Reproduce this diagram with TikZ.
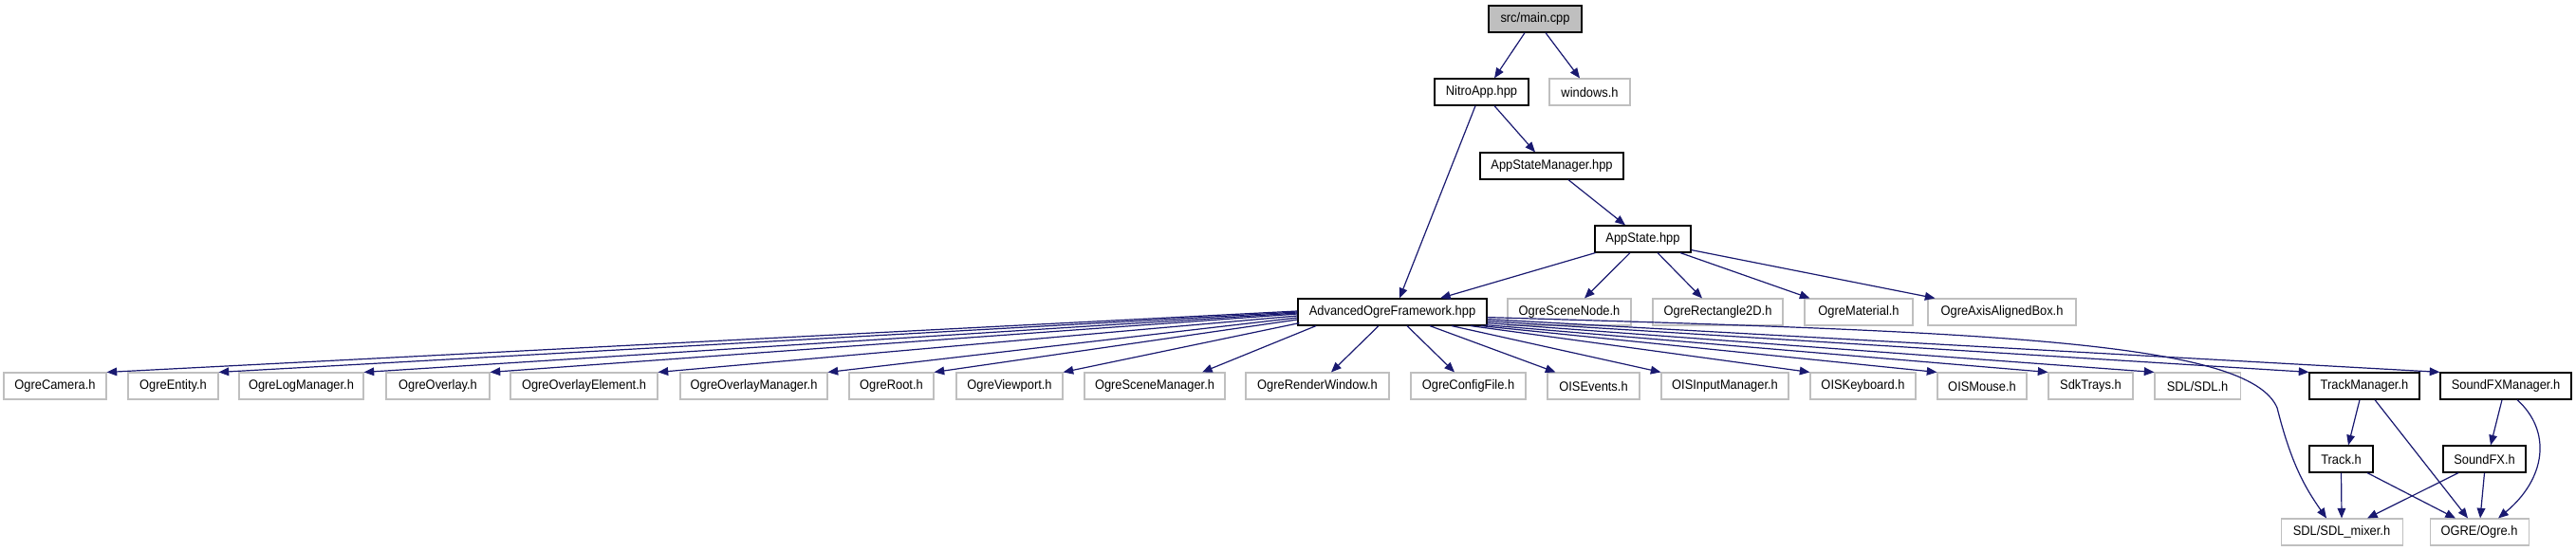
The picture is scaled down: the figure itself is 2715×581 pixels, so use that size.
\documentclass[tikz,border=0pt]{standalone}
\usepackage{fontspec}
\setmainfont{Liberation Sans}[FakeStretch=0.92]
\usepackage{xcolor}
\usetikzlibrary{arrows.meta}
\definecolor{edgeblue}{HTML}{191970}
\definecolor{extgray}{HTML}{BFBFBF}

\begin{document}
\begin{tikzpicture}[x=0.75pt,y=-0.75pt,
  font=\fontsize{10.5}{12}\selectfont, >={Triangle[length=8pt,width=6.5pt]},
  docfile/.style={draw=black,line width=0.9pt,fill=white,inner sep=0pt,minimum height=21pt,minimum width=#1*0.75pt},
  extfile/.style={draw=extgray,line width=0.8pt,fill=white,inner sep=0pt,minimum height=21pt,minimum width=#1*0.75pt},
  mainfile/.style={docfile=#1,fill=extgray},
  dep/.style={->,draw=edgeblue,line width=0.9pt}
]
\useasboundingbox (0,0) rectangle (2715,581);

% top of the include chain
\node[mainfile=98] (main) at (1618,20) {src/main.cpp};
\node[docfile=99] (nitro) at (1561.5,97) {NitroApp.hpp};
\node[extfile=85] (windows) at (1675.5,97) {windows.h};
\node[docfile=151] (asm) at (1635.5,175) {AppStateManager.hpp};
\node[docfile=101] (appstate) at (1731.5,252) {AppState.hpp};

% rank of AdvancedOgreFramework
\node[docfile=199] (aof) at (1467.5,329) {AdvancedOgreFramework.hpp};
\node[extfile=130] (scenenode) at (1654,329) {OgreSceneNode.h};
\node[extfile=137] (rect2d) at (1810.5,329) {OgreRectangle2D.h};
\node[extfile=114] (material) at (1959,329) {OgreMaterial.h};
\node[extfile=156] (aabb) at (2110,329) {OgreAxisAlignedBox.h};

% headers used by the framework
\node[extfile=108] (camera) at (58,407) {OgreCamera.h};
\node[extfile=95] (entity) at (182.5,407) {OgreEntity.h};
\node[extfile=131] (logmgr) at (317.5,407) {OgreLogManager.h};
\node[extfile=109] (overlay) at (461.5,407) {OgreOverlay.h};
\node[extfile=155] (ovelem) at (615.5,407) {OgreOverlayElement.h};
\node[extfile=155] (ovmgr) at (794.5,407) {OgreOverlayManager.h};
\node[extfile=89] (ogreroot) at (939.5,407) {OgreRoot.h};
\node[extfile=112] (viewport) at (1064,407) {OgreViewport.h};
\node[extfile=148] (scenemgr) at (1217,407) {OgreSceneManager.h};
\node[extfile=151] (renderwin) at (1388.5,407) {OgreRenderWindow.h};
\node[extfile=121] (config) at (1547.5,407) {OgreConfigFile.h};
\node[extfile=97] (oisevents) at (1679.5,407) {OISEvents.h};
\node[extfile=134] (oisinput) at (1818,407) {OISInputManager.h};
\node[extfile=111] (oiskbd) at (1963.5,407) {OISKeyboard.h};
\node[extfile=94] (oismouse) at (2089,407) {OISMouse.h};
\node[extfile=89] (sdktrays) at (2203.5,407) {SdkTrays.h};
\node[extfile=90] (sdl) at (2316,407) {SDL/SDL.h};
\node[docfile=116] (trackmgr) at (2492,407) {TrackManager.h};
\node[docfile=138] (sfxmgr) at (2641,407) {SoundFXManager.h};

% sound part
\node[docfile=67] (track) at (2467.5,484) {Track.h};
\node[docfile=87] (soundfx) at (2618.5,484) {SoundFX.h};
\node[extfile=128] (mixer) at (2468,561) {SDL/SDL\_mixer.h};
\node[extfile=104] (ogre) at (2613,561) {OGRE/Ogre.h};

\draw[dep] ([shift={(-11,0)}]main.south) -- ([shift={(13.5,0)}]nitro.north);
\draw[dep] ([shift={(11,0)}]main.south) -- ([shift={(-10.5,0)}]windows.north);
\draw[dep] ([shift={(13.5,0)}]nitro.south) -- ([shift={(-17.5,0)}]asm.north);
\draw[dep] ([shift={(-6.5,0)}]nitro.south) -- ([shift={(7.5,0)}]aof.north);
\draw[dep] ([shift={(17.5,0)}]asm.south) -- ([shift={(-18.5,0)}]appstate.north);

\draw[dep] ([shift={(1,0)}]appstate.south west) -- ([shift={(50.5,0)}]aof.north);
\draw[dep] ([shift={(-13.5,0)}]appstate.south) -- ([shift={(16,0)}]scenenode.north);
\draw[dep] ([shift={(15.5,0)}]appstate.south) -- ([shift={(-16.5,0)}]rect2d.north);
\draw[dep] ([shift={(39.5,0)}]appstate.south) -- ([shift={(6,0)}]material.north west);
\draw[dep] ([shift={(0,-3)}]appstate.south east) -- ([shift={(8,0)}]aabb.north west);

\draw[dep] ([shift={(0,-1)}]aof.west) -- (camera.north east);
\draw[dep] (aof.west) -- (entity.north east);
\draw[dep] ([shift={(0,1)}]aof.west) -- (logmgr.north east);
\draw[dep] ([shift={(0,2)}]aof.west) -- (overlay.north east);
\draw[dep] ([shift={(0,4)}]aof.west) -- (ovelem.north east);
\draw[dep] ([shift={(0,6)}]aof.west) -- (ovmgr.north east);
\draw[dep] ([shift={(0,8)}]aof.west) -- (ogreroot.north east);
\draw[dep] ([shift={(2,-3)}]aof.south west) -- (viewport.north east);
\draw[dep] ([shift={(-80.5,0)}]aof.south) -- ([shift={(50,0)}]scenemgr.north);
\draw[dep] ([shift={(-14.5,0)}]aof.south) -- ([shift={(14.5,0)}]renderwin.north);
\draw[dep] ([shift={(15.5,0)}]aof.south) -- ([shift={(-14.5,0)}]config.north);
\draw[dep] ([shift={(39.5,0)}]aof.south) -- ([shift={(9,0)}]oisevents.north west);
\draw[dep] ([shift={(62.5,0)}]aof.south) -- (oisinput.north west);
\draw[dep] ([shift={(82.5,0)}]aof.south) -- (oiskbd.north west);
\draw[dep] ([shift={(-7,0)}]aof.south east) -- (oismouse.north west);
\draw[dep] ([shift={(-2,-1)}]aof.south east) -- (sdktrays.north west);
\draw[dep] ([shift={(0,-3)}]aof.south east) -- (sdl.north west);
\draw[dep] ([shift={(0,-5)}]aof.south east) -- (trackmgr.north west);
\draw[dep] ([shift={(0,-7)}]aof.south east) -- (sfxmgr.north west);
\draw[dep] ([shift={(0,-9)}]aof.south east) .. controls (2100,350) and (2370,360)
  .. (2400,430) .. controls (2415,490) and (2430,515) .. ([shift={(-16,0)}]mixer.north);

\draw[dep] ([shift={(-5,0)}]trackmgr.south) -- ([shift={(7.5,0)}]track.north);
\draw[dep] ([shift={(11,0)}]trackmgr.south) -- ([shift={(-12,0)}]ogre.north);
\draw[dep] ([shift={(-4,0)}]sfxmgr.south) -- ([shift={(6.5,0)}]soundfx.north);
\draw[dep] ([shift={(12,0)}]sfxmgr.south) .. controls (2690,455) and (2683,505) .. ([shift={(20,0)}]ogre.north);
\draw[dep] (track.south) -- (mixer.north);
\draw[dep] ([shift={(27.5,0)}]track.south) -- ([shift={(-25,0)}]ogre.north);
\draw[dep] ([shift={(-27.5,0)}]soundfx.south) -- ([shift={(27,0)}]mixer.north);
\draw[dep] (soundfx.south) -- ([shift={(1,0)}]ogre.north);
\end{tikzpicture}
\end{document}
